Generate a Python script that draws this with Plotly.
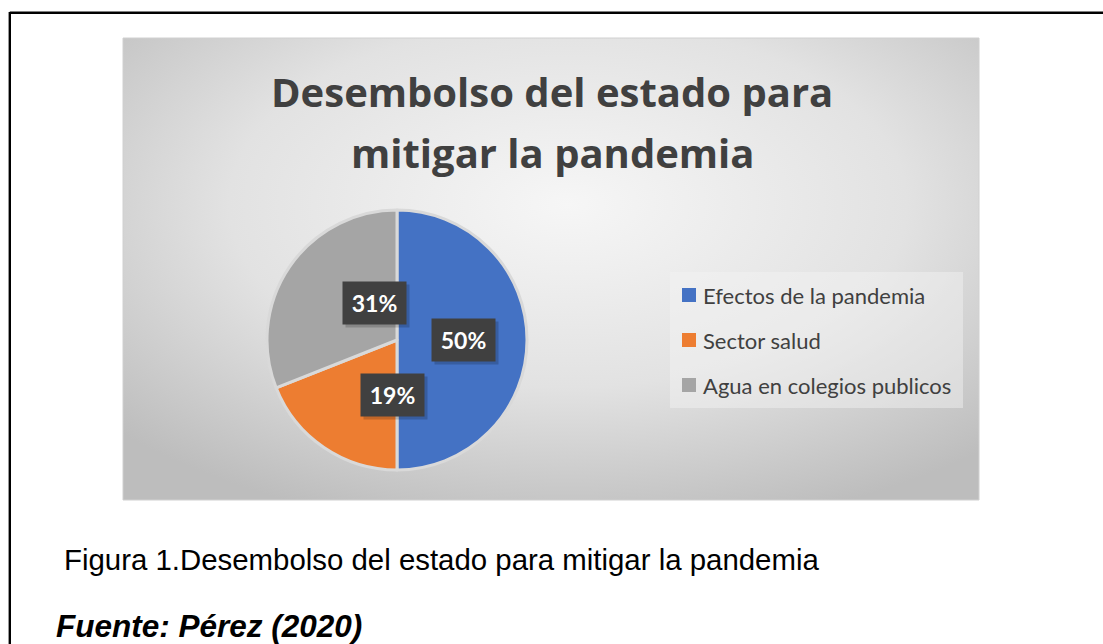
import base64
import math
import plotly.graph_objects as go

# ---------------- data ----------------
categories = ["Efectos de la pandemia", "Sector salud", "Agua en colegios publicos"]
values = [50, 19, 31]
colors = ["#4472C4", "#ED7D31", "#A5A5A5"]
title_lines = ["Desembolso del estado para", "mitigar la pandemia"]
caption = "Figura 1.Desembolso del estado para mitigar la pandemia"
source = "Fuente: Pérez (2020)"

W, H = 1103, 644


def px(x):
    return x / W


def py(y):
    return 1 - y / H


# chart area (pixels)
CA = dict(x0=123, y0=38, x1=979, y1=500)
# pie box (pixels)
PIE = dict(x0=267, y0=210, x1=527, y1=470)

svg = (
    '<svg xmlns="http://www.w3.org/2000/svg" width="856" height="462" preserveAspectRatio="none">'
    '<defs><radialGradient id="g" cx="52%" cy="36%" r="72%">'
    '<stop offset="0" stop-color="#f6f6f6"/>'
    '<stop offset="0.55" stop-color="#e2e2e2"/>'
    '<stop offset="1" stop-color="#bdbdbd"/>'
    '</radialGradient></defs>'
    '<rect width="856" height="462" fill="url(#g)"/></svg>'
)
svg_uri = "data:image/svg+xml;base64," + base64.b64encode(svg.encode()).decode()

fig = go.Figure()
fig.add_trace(
    go.Pie(
        labels=categories,
        values=values,
        sort=False,
        direction="clockwise",
        rotation=0,
        marker=dict(colors=colors, line=dict(color="#d9d9d9", width=3)),
        textinfo="none",
        hoverinfo="label+percent",
        showlegend=False,
        domain=dict(x=[px(PIE["x0"]), px(PIE["x1"])], y=[py(PIE["y1"]), py(PIE["y0"])]),
    )
)

shapes = []
annotations = []

# outer page border lines (top and left)
shapes.append(dict(type="line", xref="paper", yref="paper", x0=px(9.8), x1=1.0, y0=py(12.8), y1=py(12.8),
                   line=dict(color="black", width=2.4)))
shapes.append(dict(type="line", xref="paper", yref="paper", x0=px(9.8), x1=px(9.8), y0=py(12), y1=0,
                   line=dict(color="black", width=2.4)))
# chart area outline
shapes.append(dict(type="rect", xref="paper", yref="paper", x0=px(CA["x0"]), x1=px(CA["x1"]),
                   y0=py(CA["y1"]), y1=py(CA["y0"]), line=dict(color="#d0d0d0", width=1),
                   fillcolor="rgba(0,0,0,0)", layer="above"))

# data labels computed from slice mid-angles
cx = (PIE["x0"] + PIE["x1"]) / 2
cy = (PIE["y0"] + PIE["y1"]) / 2
R = (PIE["x1"] - PIE["x0"]) / 2
total = sum(values)
cum = 0
for v in values:
    mid = (cum + v / 2) / total * 2 * math.pi
    cum += v
    d = 0.51 * R
    lx = cx + d * math.sin(mid)
    ly = cy - d * math.cos(mid)
    pct = f"{round(v / total * 100)}%"
    # shadow
    annotations.append(dict(x=px(lx), y=py(ly), xref="paper", yref="paper", text=" ",
                            showarrow=False, width=63, height=42, bgcolor="rgba(0,0,0,0.18)",
                            xshift=3, yshift=-3, borderpad=0))
    annotations.append(dict(x=px(lx), y=py(ly), xref="paper", yref="paper", text=f"<b>{pct}</b>",
                            showarrow=False, width=63, height=42, bgcolor="#404040", borderpad=0,
                            font=dict(family="Lato", size=23, color="white")))

# title
for i, line in enumerate(title_lines):
    annotations.append(dict(x=px(552), y=py(92 + 60 * i), xref="paper", yref="paper",
                            text=f"<b>{line}</b>", showarrow=False, xanchor="center", yanchor="middle",
                            font=dict(family="Open Sans", size=40, color="#404040")))

# legend (box, squares, labels)
LEG = dict(x0=670, y0=272, x1=963, y1=408)
shapes.append(dict(type="rect", xref="paper", yref="paper", x0=px(LEG["x0"]), x1=px(LEG["x1"]),
                   y0=py(LEG["y1"]), y1=py(LEG["y0"]), line=dict(width=0),
                   fillcolor="rgba(245,245,245,0.45)"))
for i, (lab, col) in enumerate(zip(categories, colors)):
    yc = 295 + 45 * i
    shapes.append(dict(type="rect", xref="paper", yref="paper", x0=px(682), x1=px(696),
                       y0=py(yc + 7), y1=py(yc - 7), line=dict(width=0), fillcolor=col))
    annotations.append(dict(x=px(701), y=py(yc), xref="paper", yref="paper", text=lab,
                            showarrow=False, xanchor="left", yanchor="middle",
                            font=dict(family="Lato", size=22, color="#404040")))

# captions
annotations.append(dict(x=px(62), y=py(559), xref="paper", yref="paper", text=caption,
                        showarrow=False, xanchor="left", yanchor="middle",
                        font=dict(family="Liberation Sans, Arial", size=29.4, color="black")))
annotations.append(dict(x=px(54), y=py(626), xref="paper", yref="paper", text=f"<b><i>{source}</i></b>",
                        showarrow=False, xanchor="left", yanchor="middle",
                        font=dict(family="Liberation Sans, Arial", size=31.5, color="black")))

fig.update_layout(
    width=W, height=H,
    margin=dict(l=0, r=0, t=0, b=0),
    paper_bgcolor="white",
    plot_bgcolor="white",
    showlegend=False,
    shapes=shapes,
    annotations=annotations,
    images=[dict(source=svg_uri, xref="paper", yref="paper", x=px(CA["x0"]), y=py(CA["y0"]),
                 sizex=px(CA["x1"]) - px(CA["x0"]), sizey=(CA["y1"] - CA["y0"]) / H,
                 xanchor="left", yanchor="top", sizing="stretch", layer="below")],
)

fig.write_html("out.html")
